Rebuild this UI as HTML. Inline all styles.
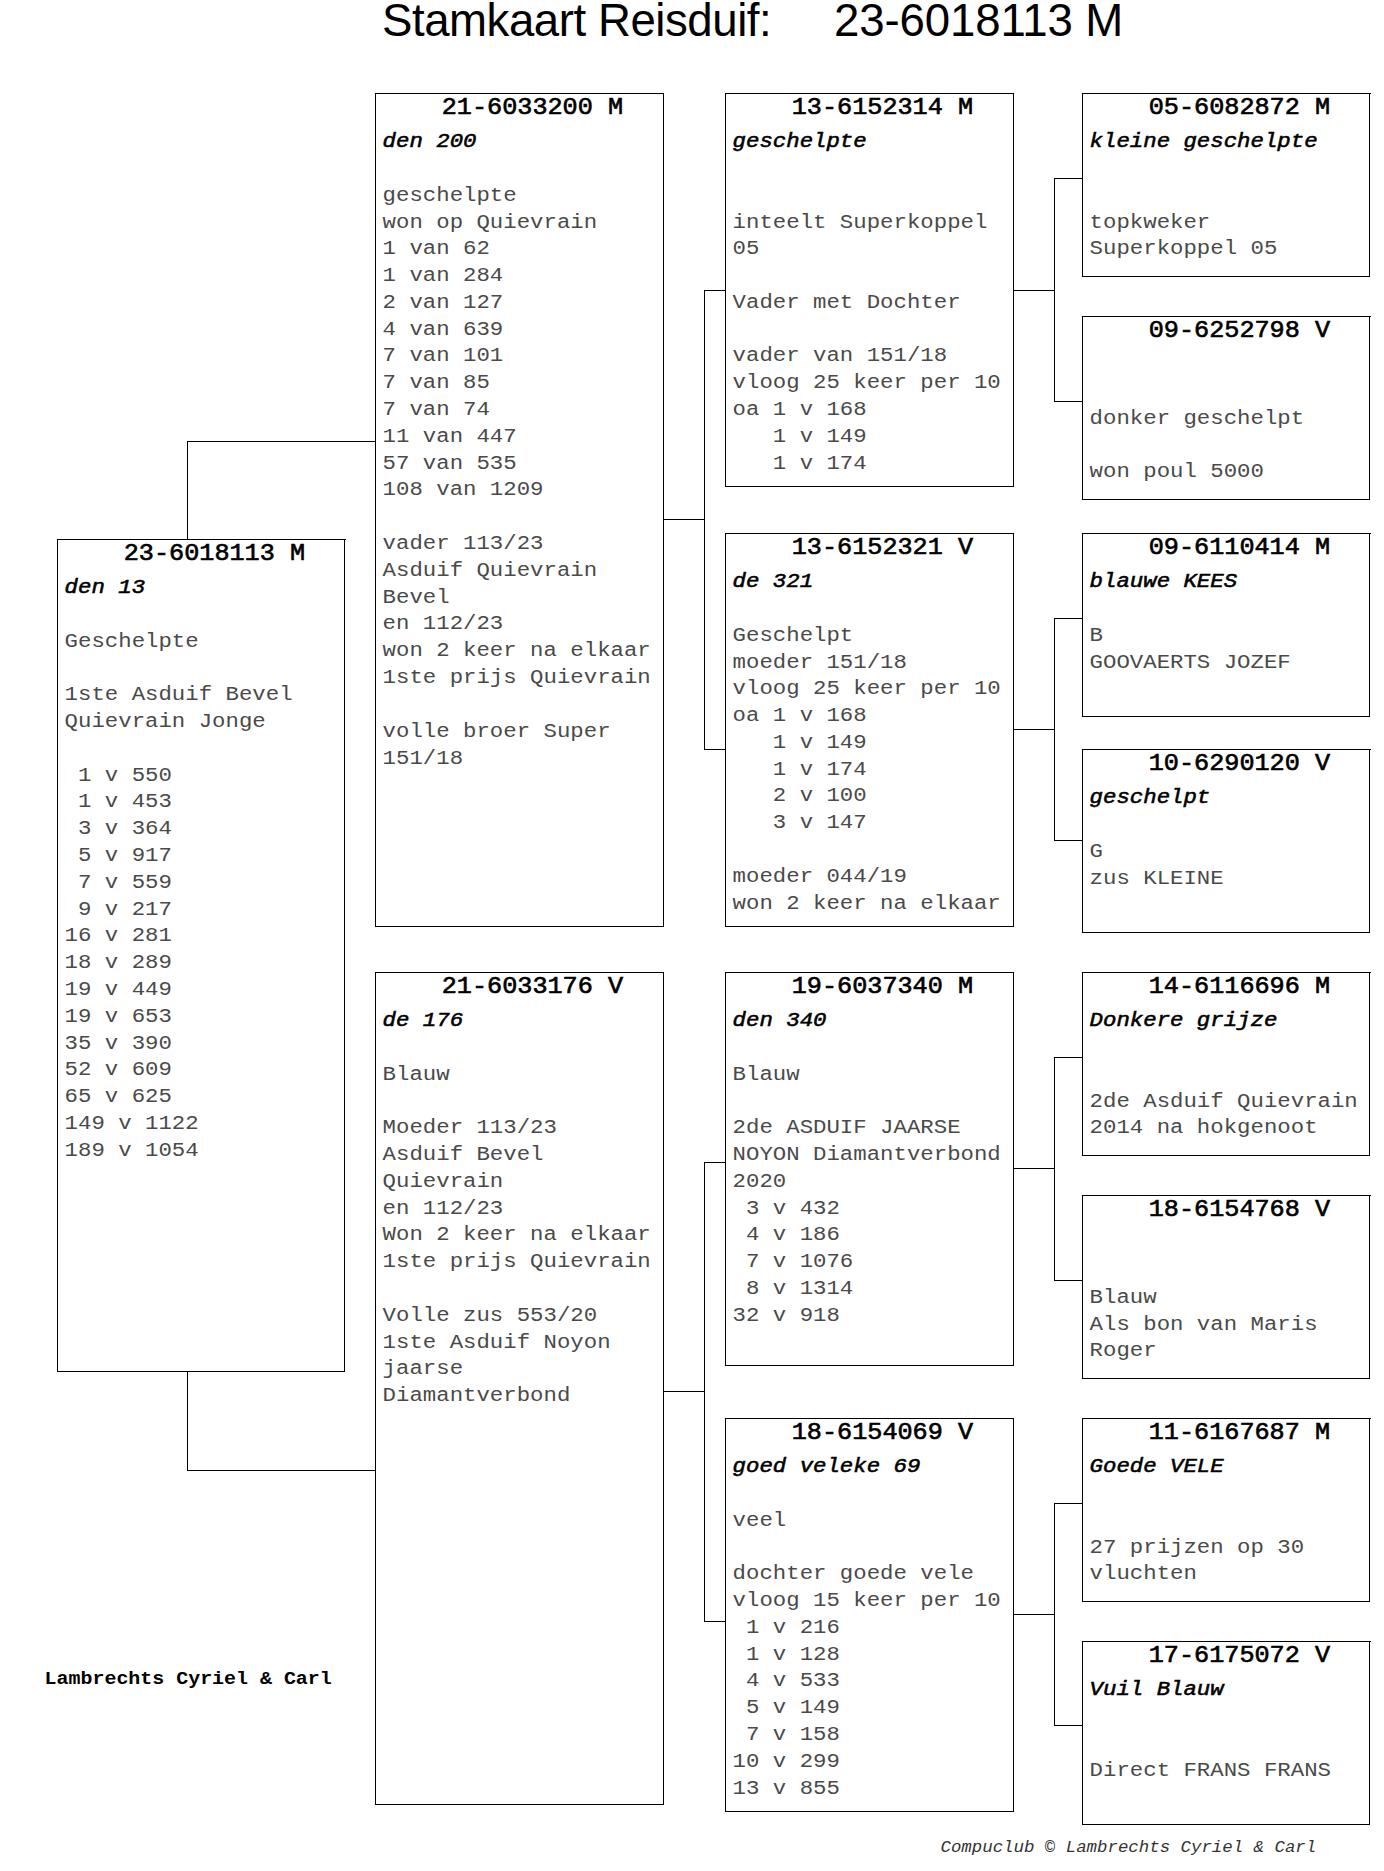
<!DOCTYPE html>
<html><head><meta charset="utf-8"><title>Stamkaart Reisduif</title>
<style>
html,body{margin:0;padding:0;background:#fff;}
body{width:1384px;height:1871px;position:relative;overflow:hidden;}
.bx{position:absolute;box-sizing:border-box;border:1px solid #000;}
.ln{position:absolute;background:#000;}
.t{position:absolute;white-space:pre;font-family:"Liberation Mono", monospace;margin:0;}
.hd{font-weight:normal;color:#000;-webkit-text-stroke:0.65px #000;}
.it{font-weight:normal;font-style:italic;color:#000;-webkit-text-stroke:0.6px #000;}
.bd{color:#4a4a4a;}
.ft{color:#333;}
.fb{font-weight:bold;color:#000;}
.ttl{position:absolute;white-space:pre;font-family:"Liberation Sans",sans-serif;color:#000;}
</style></head><body>

<div class="bx" style="left:57px;top:539px;width:288px;height:833px"></div>
<div class="ln" style="left:345px;top:539px;width:1px;height:1px"></div>
<div class="bx" style="left:375px;top:93px;width:289px;height:834px"></div>
<div class="bx" style="left:375px;top:972px;width:289px;height:833px"></div>
<div class="bx" style="left:725px;top:93px;width:289px;height:394px"></div>
<div class="bx" style="left:725px;top:533px;width:289px;height:394px"></div>
<div class="bx" style="left:725px;top:972px;width:289px;height:394px"></div>
<div class="bx" style="left:725px;top:1418px;width:289px;height:394px"></div>
<div class="bx" style="left:1082px;top:93px;width:288px;height:184px"></div>
<div class="ln" style="left:1370px;top:93px;width:1px;height:1px"></div>
<div class="bx" style="left:1082px;top:316px;width:288px;height:184px"></div>
<div class="ln" style="left:1370px;top:316px;width:1px;height:1px"></div>
<div class="bx" style="left:1082px;top:533px;width:288px;height:184px"></div>
<div class="ln" style="left:1370px;top:533px;width:1px;height:1px"></div>
<div class="bx" style="left:1082px;top:749px;width:288px;height:184px"></div>
<div class="ln" style="left:1370px;top:749px;width:1px;height:1px"></div>
<div class="bx" style="left:1082px;top:972px;width:288px;height:184px"></div>
<div class="ln" style="left:1370px;top:972px;width:1px;height:1px"></div>
<div class="bx" style="left:1082px;top:1195px;width:288px;height:184px"></div>
<div class="ln" style="left:1370px;top:1195px;width:1px;height:1px"></div>
<div class="bx" style="left:1082px;top:1418px;width:288px;height:184px"></div>
<div class="ln" style="left:1370px;top:1418px;width:1px;height:1px"></div>
<div class="bx" style="left:1082px;top:1641px;width:288px;height:184px"></div>
<div class="ln" style="left:1370px;top:1641px;width:1px;height:1px"></div>
<div class="ln" style="left:187px;top:441px;width:1px;height:99px"></div>
<div class="ln" style="left:187px;top:441px;width:189px;height:1px"></div>
<div class="ln" style="left:187px;top:1371px;width:1px;height:100px"></div>
<div class="ln" style="left:187px;top:1470px;width:189px;height:1px"></div>
<div class="ln" style="left:663px;top:519px;width:42px;height:1px"></div>
<div class="ln" style="left:704px;top:290px;width:1px;height:460px"></div>
<div class="ln" style="left:704px;top:290px;width:22px;height:1px"></div>
<div class="ln" style="left:704px;top:749px;width:22px;height:1px"></div>
<div class="ln" style="left:663px;top:1391px;width:42px;height:1px"></div>
<div class="ln" style="left:704px;top:1162px;width:1px;height:460px"></div>
<div class="ln" style="left:704px;top:1162px;width:22px;height:1px"></div>
<div class="ln" style="left:704px;top:1621px;width:22px;height:1px"></div>
<div class="ln" style="left:1013px;top:290px;width:42px;height:1px"></div>
<div class="ln" style="left:1054px;top:178px;width:1px;height:224px"></div>
<div class="ln" style="left:1054px;top:178px;width:29px;height:1px"></div>
<div class="ln" style="left:1054px;top:401px;width:29px;height:1px"></div>
<div class="ln" style="left:1013px;top:729px;width:42px;height:1px"></div>
<div class="ln" style="left:1054px;top:618px;width:1px;height:223px"></div>
<div class="ln" style="left:1054px;top:618px;width:29px;height:1px"></div>
<div class="ln" style="left:1054px;top:840px;width:29px;height:1px"></div>
<div class="ln" style="left:1013px;top:1168px;width:42px;height:1px"></div>
<div class="ln" style="left:1054px;top:1057px;width:1px;height:224px"></div>
<div class="ln" style="left:1054px;top:1057px;width:29px;height:1px"></div>
<div class="ln" style="left:1054px;top:1280px;width:29px;height:1px"></div>
<div class="ln" style="left:1013px;top:1614px;width:42px;height:1px"></div>
<div class="ln" style="left:1054px;top:1503px;width:1px;height:223px"></div>
<div class="ln" style="left:1054px;top:1503px;width:29px;height:1px"></div>
<div class="ln" style="left:1054px;top:1725px;width:29px;height:1px"></div>
<div class="t hd" style="left:123.70px;top:537.61px;font-size:25.20px;line-height:31.5789px;transform:scaleY(0.950);transform-origin:0 22.289px;">23-6018113 M</div>
<div class="t it" style="left:64.60px;top:572.37px;font-size:22.35px;line-height:30.4545px;transform:scaleY(0.880);transform-origin:0 21.227px;">den 13</div>
<div class="t bd" style="left:64.60px;top:599.91px;font-size:22.35px;line-height:29.7778px;transform:scaleY(0.900);transform-origin:0 20.889px;">
Geschelpte

1ste Asduif Bevel
Quievrain Jonge

 1 v 550
 1 v 453
 3 v 364
 5 v 917
 7 v 559
 9 v 217
16 v 281
18 v 289
19 v 449
19 v 653
35 v 390
52 v 609
65 v 625
149 v 1122
189 v 1054</div>
<div class="t hd" style="left:441.70px;top:91.61px;font-size:25.20px;line-height:31.5789px;transform:scaleY(0.950);transform-origin:0 22.289px;">21-6033200 M</div>
<div class="t it" style="left:382.60px;top:126.37px;font-size:22.35px;line-height:30.4545px;transform:scaleY(0.880);transform-origin:0 21.227px;">den 200</div>
<div class="t bd" style="left:382.60px;top:153.91px;font-size:22.35px;line-height:29.7778px;transform:scaleY(0.900);transform-origin:0 20.889px;">
geschelpte
won op Quievrain
1 van 62
1 van 284
2 van 127
4 van 639
7 van 101
7 van 85
7 van 74
11 van 447
57 van 535
108 van 1209

vader 113/23
Asduif Quievrain
Bevel
en 112/23
won 2 keer na elkaar
1ste prijs Quievrain

volle broer Super
151/18</div>
<div class="t hd" style="left:441.70px;top:970.61px;font-size:25.20px;line-height:31.5789px;transform:scaleY(0.950);transform-origin:0 22.289px;">21-6033176 V</div>
<div class="t it" style="left:382.60px;top:1005.37px;font-size:22.35px;line-height:30.4545px;transform:scaleY(0.880);transform-origin:0 21.227px;">de 176</div>
<div class="t bd" style="left:382.60px;top:1032.91px;font-size:22.35px;line-height:29.7778px;transform:scaleY(0.900);transform-origin:0 20.889px;">
Blauw

Moeder 113/23
Asduif Bevel
Quievrain
en 112/23
Won 2 keer na elkaar
1ste prijs Quievrain

Volle zus 553/20
1ste Asduif Noyon
jaarse
Diamantverbond</div>
<div class="t hd" style="left:791.70px;top:91.61px;font-size:25.20px;line-height:31.5789px;transform:scaleY(0.950);transform-origin:0 22.289px;">13-6152314 M</div>
<div class="t it" style="left:732.60px;top:126.37px;font-size:22.35px;line-height:30.4545px;transform:scaleY(0.880);transform-origin:0 21.227px;">geschelpte</div>
<div class="t bd" style="left:732.60px;top:153.91px;font-size:22.35px;line-height:29.7778px;transform:scaleY(0.900);transform-origin:0 20.889px;">

inteelt Superkoppel
05

Vader met Dochter

vader van 151/18
vloog 25 keer per 10
oa 1 v 168
   1 v 149
   1 v 174</div>
<div class="t hd" style="left:791.70px;top:531.61px;font-size:25.20px;line-height:31.5789px;transform:scaleY(0.950);transform-origin:0 22.289px;">13-6152321 V</div>
<div class="t it" style="left:732.60px;top:566.37px;font-size:22.35px;line-height:30.4545px;transform:scaleY(0.880);transform-origin:0 21.227px;">de 321</div>
<div class="t bd" style="left:732.60px;top:593.91px;font-size:22.35px;line-height:29.7778px;transform:scaleY(0.900);transform-origin:0 20.889px;">
Geschelpt
moeder 151/18
vloog 25 keer per 10
oa 1 v 168
   1 v 149
   1 v 174
   2 v 100
   3 v 147

moeder 044/19
won 2 keer na elkaar</div>
<div class="t hd" style="left:791.70px;top:970.61px;font-size:25.20px;line-height:31.5789px;transform:scaleY(0.950);transform-origin:0 22.289px;">19-6037340 M</div>
<div class="t it" style="left:732.60px;top:1005.37px;font-size:22.35px;line-height:30.4545px;transform:scaleY(0.880);transform-origin:0 21.227px;">den 340</div>
<div class="t bd" style="left:732.60px;top:1032.91px;font-size:22.35px;line-height:29.7778px;transform:scaleY(0.900);transform-origin:0 20.889px;">
Blauw

2de ASDUIF JAARSE
NOYON Diamantverbond
2020
 3 v 432
 4 v 186
 7 v 1076
 8 v 1314
32 v 918</div>
<div class="t hd" style="left:791.70px;top:1416.61px;font-size:25.20px;line-height:31.5789px;transform:scaleY(0.950);transform-origin:0 22.289px;">18-6154069 V</div>
<div class="t it" style="left:732.60px;top:1451.37px;font-size:22.35px;line-height:30.4545px;transform:scaleY(0.880);transform-origin:0 21.227px;">goed veleke 69</div>
<div class="t bd" style="left:732.60px;top:1478.91px;font-size:22.35px;line-height:29.7778px;transform:scaleY(0.900);transform-origin:0 20.889px;">
veel

dochter goede vele
vloog 15 keer per 10
 1 v 216
 1 v 128
 4 v 533
 5 v 149
 7 v 158
10 v 299
13 v 855</div>
<div class="t hd" style="left:1148.70px;top:91.61px;font-size:25.20px;line-height:31.5789px;transform:scaleY(0.950);transform-origin:0 22.289px;">05-6082872 M</div>
<div class="t it" style="left:1089.60px;top:126.37px;font-size:22.35px;line-height:30.4545px;transform:scaleY(0.880);transform-origin:0 21.227px;">kleine geschelpte</div>
<div class="t bd" style="left:1089.60px;top:153.91px;font-size:22.35px;line-height:29.7778px;transform:scaleY(0.900);transform-origin:0 20.889px;">

topkweker
Superkoppel 05</div>
<div class="t hd" style="left:1148.70px;top:314.61px;font-size:25.20px;line-height:31.5789px;transform:scaleY(0.950);transform-origin:0 22.289px;">09-6252798 V</div>
<div class="t bd" style="left:1089.60px;top:376.91px;font-size:22.35px;line-height:29.7778px;transform:scaleY(0.900);transform-origin:0 20.889px;">
donker geschelpt

won poul 5000</div>
<div class="t hd" style="left:1148.70px;top:531.61px;font-size:25.20px;line-height:31.5789px;transform:scaleY(0.950);transform-origin:0 22.289px;">09-6110414 M</div>
<div class="t it" style="left:1089.60px;top:566.37px;font-size:22.35px;line-height:30.4545px;transform:scaleY(0.880);transform-origin:0 21.227px;">blauwe KEES</div>
<div class="t bd" style="left:1089.60px;top:593.91px;font-size:22.35px;line-height:29.7778px;transform:scaleY(0.900);transform-origin:0 20.889px;">
B
GOOVAERTS JOZEF</div>
<div class="t hd" style="left:1148.70px;top:747.61px;font-size:25.20px;line-height:31.5789px;transform:scaleY(0.950);transform-origin:0 22.289px;">10-6290120 V</div>
<div class="t it" style="left:1089.60px;top:782.37px;font-size:22.35px;line-height:30.4545px;transform:scaleY(0.880);transform-origin:0 21.227px;">geschelpt</div>
<div class="t bd" style="left:1089.60px;top:809.91px;font-size:22.35px;line-height:29.7778px;transform:scaleY(0.900);transform-origin:0 20.889px;">
G
zus KLEINE</div>
<div class="t hd" style="left:1148.70px;top:970.61px;font-size:25.20px;line-height:31.5789px;transform:scaleY(0.950);transform-origin:0 22.289px;">14-6116696 M</div>
<div class="t it" style="left:1089.60px;top:1005.37px;font-size:22.35px;line-height:30.4545px;transform:scaleY(0.880);transform-origin:0 21.227px;">Donkere grijze</div>
<div class="t bd" style="left:1089.60px;top:1032.91px;font-size:22.35px;line-height:29.7778px;transform:scaleY(0.900);transform-origin:0 20.889px;">

2de Asduif Quievrain
2014 na hokgenoot</div>
<div class="t hd" style="left:1148.70px;top:1193.61px;font-size:25.20px;line-height:31.5789px;transform:scaleY(0.950);transform-origin:0 22.289px;">18-6154768 V</div>
<div class="t bd" style="left:1089.60px;top:1255.91px;font-size:22.35px;line-height:29.7778px;transform:scaleY(0.900);transform-origin:0 20.889px;">
Blauw
Als bon van Maris
Roger</div>
<div class="t hd" style="left:1148.70px;top:1416.61px;font-size:25.20px;line-height:31.5789px;transform:scaleY(0.950);transform-origin:0 22.289px;">11-6167687 M</div>
<div class="t it" style="left:1089.60px;top:1451.37px;font-size:22.35px;line-height:30.4545px;transform:scaleY(0.880);transform-origin:0 21.227px;">Goede VELE</div>
<div class="t bd" style="left:1089.60px;top:1478.91px;font-size:22.35px;line-height:29.7778px;transform:scaleY(0.900);transform-origin:0 20.889px;">

27 prijzen op 30
vluchten</div>
<div class="t hd" style="left:1148.70px;top:1639.61px;font-size:25.20px;line-height:31.5789px;transform:scaleY(0.950);transform-origin:0 22.289px;">17-6175072 V</div>
<div class="t it" style="left:1089.60px;top:1674.37px;font-size:22.35px;line-height:30.4545px;transform:scaleY(0.880);transform-origin:0 21.227px;">Vuil Blauw</div>
<div class="t bd" style="left:1089.60px;top:1701.91px;font-size:22.35px;line-height:29.7778px;transform:scaleY(0.900);transform-origin:0 20.889px;">

Direct FRANS FRANS</div>
<div class="ttl" style="left:382px;top:-4.5px;font-size:45.6px;line-height:50px;letter-spacing:-0.45px">Stamkaart Reisduif:</div>
<div class="ttl" style="left:834px;top:-4.5px;font-size:45.6px;line-height:50px;letter-spacing:-0.13px">23-6018113 M</div>
<div class="t fb" style="left:44.60px;top:1665.67px;font-size:19.95px;line-height:26.6667px;transform:scaleY(0.900);transform-origin:0 18.833px;">Lambrechts Cyriel &amp; Carl</div>
<div class="t ft" style="left:940.50px;top:1835.88px;font-size:17.40px;line-height:24.4444px;transform:scaleY(0.900);transform-origin:0 16.722px;font-style:italic;">Compuclub &#169; Lambrechts Cyriel &amp; Carl</div>
</body></html>
